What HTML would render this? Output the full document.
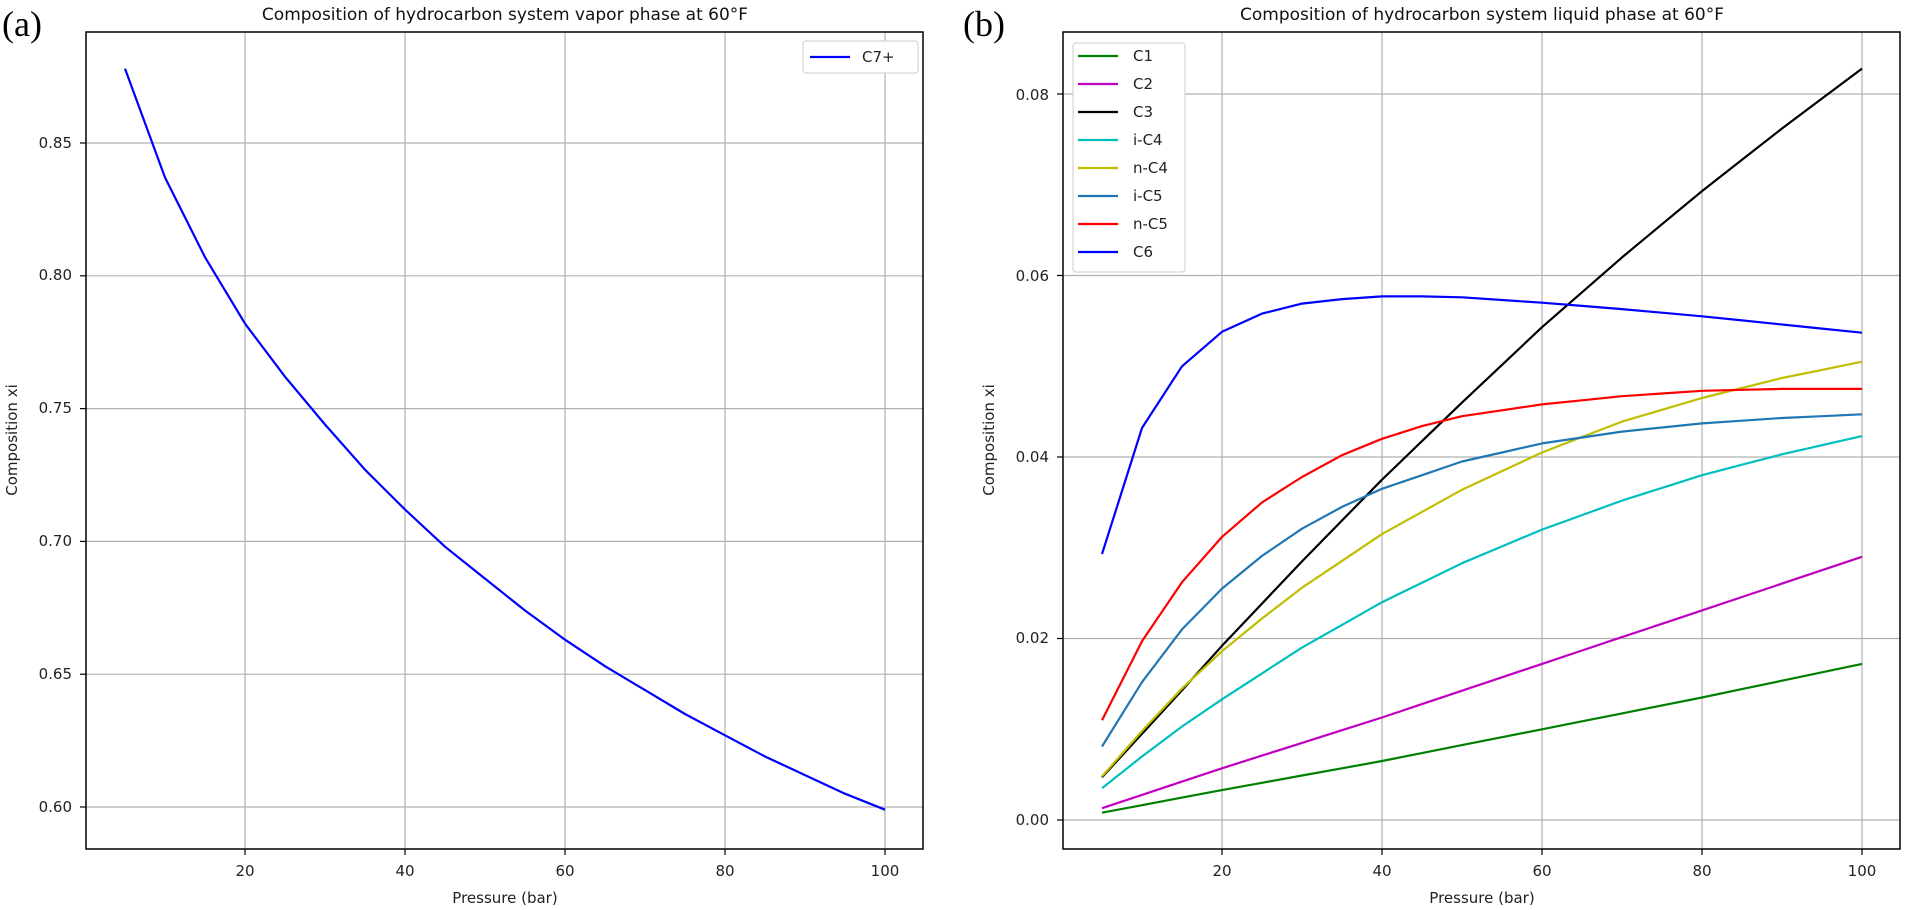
<!DOCTYPE html>
<html><head><meta charset="utf-8"><style>
body{margin:0;background:#fff;}
svg{display:block;font-family:"DejaVu Sans","Liberation Sans",sans-serif;}
.t{font-size:15px;fill:#222;}
.ti{font-size:17px;fill:#111;}
</style></head><body>
<svg id="s" width="1905" height="910" viewBox="0 0 1905 910" xmlns="http://www.w3.org/2000/svg">
<rect width="1905" height="910" fill="#fff"/>
<text x="2" y="36" font-family="Liberation Serif,serif" font-size="36" fill="#000">(a)</text>
<text x="963" y="36" font-family="Liberation Serif,serif" font-size="36" fill="#000">(b)</text>
<text class="ti" x="505" y="20" text-anchor="middle">Composition of hydrocarbon system vapor phase at 60°F</text>
<text class="ti" x="1482" y="20" text-anchor="middle">Composition of hydrocarbon system liquid phase at 60°F</text>
<g id="grid" stroke="#b0b0b0" stroke-width="1.2"></g>
<g id="lines" fill="none" stroke-width="2.2" stroke-linejoin="round"></g>
<rect x="86" y="32" width="837" height="817" fill="none" stroke="#000" stroke-width="1.5"/>
<rect x="1063" y="32" width="837" height="817" fill="none" stroke="#000" stroke-width="1.5"/>
<g class="t" text-anchor="middle">
<text x="245" y="876">20</text><text x="405" y="876">40</text><text x="565" y="876">60</text><text x="725" y="876">80</text><text x="885" y="876">100</text>
<text x="1222" y="876">20</text><text x="1382" y="876">40</text><text x="1542" y="876">60</text><text x="1702" y="876">80</text><text x="1862" y="876">100</text>
<text x="505" y="903">Pressure (bar)</text><text x="1482" y="903">Pressure (bar)</text>
</g>
<g class="t" text-anchor="end">
<text x="72" y="812">0.60</text><text x="72" y="679">0.65</text><text x="72" y="546">0.70</text><text x="72" y="413">0.75</text><text x="72" y="280">0.80</text><text x="72" y="148">0.85</text>
<text x="1049" y="825">0.00</text><text x="1049" y="643">0.02</text><text x="1049" y="462">0.04</text><text x="1049" y="281">0.06</text><text x="1049" y="100">0.08</text>
</g>
<text class="t" transform="translate(17,440) rotate(-90)" text-anchor="middle">Composition xi</text>
<text class="t" transform="translate(994,440) rotate(-90)" text-anchor="middle">Composition xi</text>
<rect x="803" y="41" width="115" height="32" rx="3" fill="#fff" stroke="#ccc"/>
<line x1="810" y1="57" x2="850" y2="57" stroke="#0000ff" stroke-width="2.2"/>
<text class="t" x="862" y="62">C7+</text>
<rect x="1073" y="43" width="112" height="229" rx="3" fill="#fff" stroke="#ccc"/>
<g id="leg"></g>
<g class="t">
<text x="1133" y="61">C1</text><text x="1133" y="89">C2</text><text x="1133" y="117">C3</text><text x="1133" y="145">i-C4</text><text x="1133" y="173">n-C4</text><text x="1133" y="201">i-C5</text><text x="1133" y="229">n-C5</text><text x="1133" y="257">C6</text>
</g>
</svg>
<script>
var NS="http://www.w3.org/2000/svg";
function el(p,n,a){var e=document.createElementNS(NS,n);for(var k in a)e.setAttribute(k,a[k]);p.appendChild(e);return e;}
var g=document.getElementById('grid'),L=document.getElementById('lines'),lg=document.getElementById('leg');
[20,40,60,80,100].forEach(function(b){el(g,'line',{x1:85+8*b,x2:85+8*b,y1:32,y2:849});el(g,'line',{x1:1062+8*b,x2:1062+8*b,y1:32,y2:849});
 el(g,'line',{x1:85+8*b,x2:85+8*b,y1:849,y2:855,stroke:'#000'});el(g,'line',{x1:1062+8*b,x2:1062+8*b,y1:849,y2:855,stroke:'#000'});});
[0.60,0.65,0.70,0.75,0.80,0.85].forEach(function(v){var y=807-2656*(v-0.6);el(g,'line',{x1:86,x2:923,y1:y,y2:y});el(g,'line',{x1:80,x2:86,y1:y,y2:y,stroke:'#000'});});
[0,0.02,0.04,0.06,0.08].forEach(function(v){var y=820-9075*v;el(g,'line',{x1:1063,x2:1900,y1:y,y2:y});el(g,'line',{x1:1057,x2:1063,y1:y,y2:y,stroke:'#000'});});
var P=[5,10,15,20,25,30,35,40,45,50,55,60,65,70,75,80,85,90,95,100];
var c7=[0.878,0.837,0.807,0.782,0.762,0.744,0.727,0.712,0.698,0.686,0.674,0.663,0.653,0.644,0.635,0.627,0.619,0.612,0.605,0.599];
el(L,'polyline',{stroke:'#0000ff',points:P.map(function(b,i){return (85+8*b)+','+(807-2656*(c7[i]-0.6)).toFixed(1);}).join(' ')});
function interp(k,b){for(var i=0;i<k.length-1;i++){if(b<=k[i+1][0]){var t=(b-k[i][0])/(k[i+1][0]-k[i][0]);return k[i][1]+t*(k[i+1][1]-k[i][1]);}}return k[k.length-1][1];}
var S=[
['#008000',[[5,0.0008],[20,0.0033],[40,0.0065],[60,0.0100],[80,0.0135],[100,0.0172]]],
['#bf00bf',[[5,0.0013],[20,0.0057],[40,0.0113],[60,0.0172],[80,0.0231],[100,0.0290]]],
['#000000',[[5,0.0047],[10,0.0095],[15,0.0143],[20,0.0192],[30,0.0285],[40,0.0375],[50,0.0460],[60,0.0543],[70,0.0620],[80,0.0693],[90,0.0762],[100,0.0828]]],
['#00bfbf',[[5,0.0035],[10,0.0070],[15,0.0103],[20,0.0133],[30,0.0190],[40,0.0240],[50,0.0283],[60,0.0320],[70,0.0352],[80,0.0380],[90,0.0403],[100,0.0423]]],
['#bfbf00',[[5,0.0048],[10,0.0098],[15,0.0145],[20,0.0186],[25,0.0222],[30,0.0256],[40,0.0315],[50,0.0364],[60,0.0405],[70,0.0439],[80,0.0465],[90,0.0487],[100,0.0505]]],
['#1f77b4',[[5,0.0081],[10,0.0152],[15,0.0210],[20,0.0255],[25,0.0291],[30,0.0321],[35,0.0345],[40,0.0365],[50,0.0395],[60,0.0415],[70,0.0428],[80,0.0437],[90,0.0443],[100,0.0447]]],
['#ff0000',[[5,0.0110],[10,0.0197],[15,0.0262],[20,0.0312],[25,0.0350],[30,0.0378],[35,0.0402],[40,0.0420],[45,0.0434],[50,0.0445],[60,0.0458],[70,0.0467],[80,0.0473],[90,0.0475],[100,0.0475]]],
['#0000ff',[[5,0.0293],[10,0.0432],[15,0.0500],[20,0.0538],[25,0.0558],[30,0.0569],[35,0.0574],[40,0.0577],[45,0.0577],[50,0.0576],[60,0.0570],[70,0.0563],[80,0.0555],[90,0.0546],[100,0.0537]]]];
S.forEach(function(s,j){
 el(L,'polyline',{stroke:s[0],points:P.map(function(b){return (1062+8*b)+','+(820-9075*interp(s[1],b)).toFixed(1);}).join(' ')});
 el(lg,'line',{x1:1078,x2:1118,y1:56+28*j,y2:56+28*j,stroke:s[0],'stroke-width':2.2});
});
</script>
</body></html>
